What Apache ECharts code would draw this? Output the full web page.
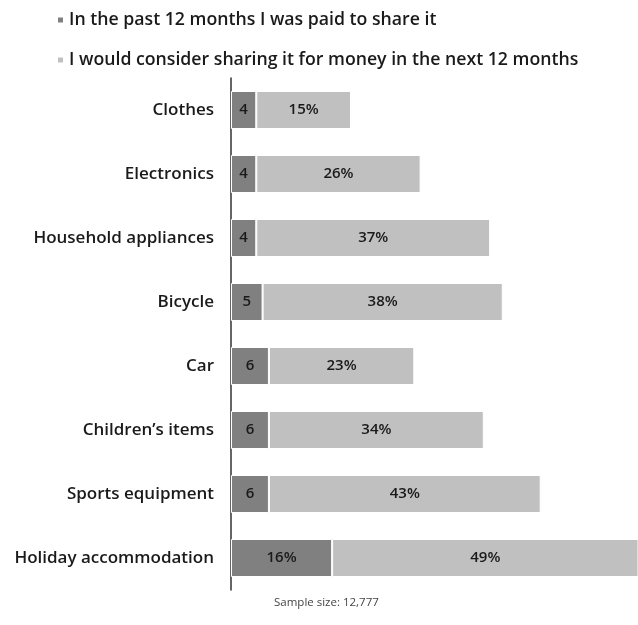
<!DOCTYPE html>
<html><head><meta charset="utf-8">
<script src="https://cdn.jsdelivr.net/npm/echarts@6/dist/echarts.min.js"></script>
<style>html,body{margin:0;padding:0;background:#fff}#c{width:638px;height:625px}</style>
</head><body><div id="c"></div>
<script>
const categories = ['Clothes','Electronics','Household appliances','Bicycle','Car',"Children’s items",'Sports equipment','Holiday accommodation'];
const paidValues = [4,4,4,5,6,6,6,16];
const paidLabels = ['4','4','4','5','6','6','6','16%'];
const considerValues = [15,26,37,38,23,34,43,49];
const considerLabels = ['15%','26%','37%','38%','23%','34%','43%','49%'];
const seriesNames = ['In the past 12 months I was paid to share it','I would consider sharing it for money in the next 12 months'];
const note = 'Sample size: 12,777';

const FONT = 'Open Sans';
const chart = echarts.init(document.getElementById('c'));
chart.setOption({
  animation:false,
  textStyle:{fontFamily:FONT},
  legend:{
    orient:'vertical', left:51, top:6, itemGap:22,
    itemWidth:7, itemHeight:7, icon:'rect',
    textStyle:{fontSize:17.7, fontWeight:600, color:'#1a1a1a', fontFamily:FONT},
    data:seriesNames
  },
  grid:{left:231, right:0, top:78, bottom:35, containLabel:false},
  xAxis:{type:'value', min:0, max:64.4, show:false},
  yAxis:{type:'category', data:categories, inverse:true,
    axisLine:{show:true, lineStyle:{color:'#333', width:1.5}},
    axisTick:{show:false},
    axisLabel:{fontSize:17, fontWeight:600, color:'#1a1a1a', margin:17, fontFamily:FONT}
  },
  series:[
    {name:seriesNames[0], type:'bar', stack:'a', barWidth:38,
     data:paidValues,
     itemStyle:{color:'#808080', borderColor:'#fff', borderWidth:1},
     label:{show:true, position:'inside', color:'#1a1a1a', fontSize:15, fontWeight:600,
       formatter:p=>paidLabels[p.dataIndex]}},
    {name:seriesNames[1], type:'bar', stack:'a', barWidth:38,
     data:considerValues,
     itemStyle:{color:'#c0c0c0', borderColor:'#fff', borderWidth:1},
     label:{show:true, position:'inside', color:'#1a1a1a', fontSize:15, fontWeight:600,
       formatter:p=>considerLabels[p.dataIndex]}}
  ],
  graphic:[{type:'text', left:274, top:597,
    style:{text:note, fontSize:11.5, fill:'#444', fontFamily:FONT}}]
});
</script></body></html>
